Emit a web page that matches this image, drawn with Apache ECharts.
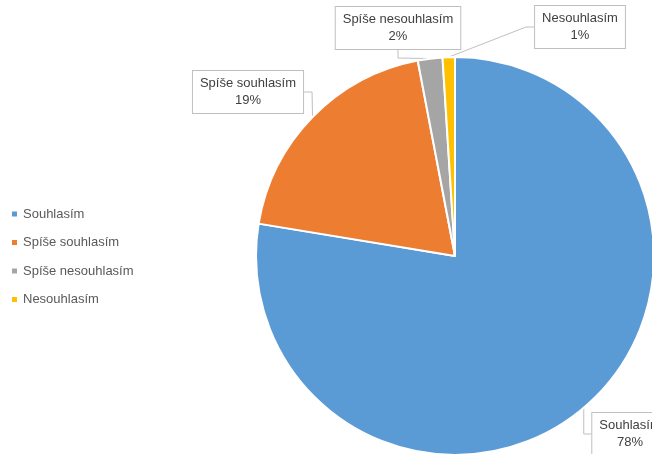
<!DOCTYPE html>
<html>
<head>
<meta charset="utf-8">
<script src="https://cdn.jsdelivr.net/npm/echarts@6/dist/echarts.min.js"></script>
<style>
html, body { margin: 0; padding: 0; background: #fff; }
#main { width: 652px; height: 454px; }
</style>
</head>
<body>
<div id="main"></div>
<script>
var categories = ['Souhlasím', 'Spíše souhlasím', 'Spíše nesouhlasím', 'Nesouhlasím'];
var values = [77.6, 19.4, 2.0, 1.0];
var colors = ['#5B9BD5', '#ED7D31', '#A5A5A5', '#FFC000'];
// where each callout box sits (centre of box)
var labelSpots = [[630, 434], [248, 92], [398, 28], [580, 27]];

var myChart = echarts.init(document.getElementById('main'));

var pieData = [];
for (var i = 0; i < categories.length; i++) {
    pieData.push({ name: categories[i], value: values[i], itemStyle: { color: colors[i] } });
}

option = {
    animation: false,
    textStyle: { fontFamily: 'Liberation Sans' },
    legend: {
        orient: 'vertical',
        left: 5,
        top: 201,
        itemWidth: 7,
        itemHeight: 7,
        itemGap: 12.5,
        icon: 'rect',
        textStyle: { color: '#595959', fontSize: 13, lineHeight: 16, fontFamily: 'Liberation Sans' },
        data: categories
    },
    series: [{
        type: 'pie',
        // wide layout box so the right-hand callout is not squeezed
        left: 0,
        top: 0,
        width: 1000,
        height: 454,
        center: [455, 256],
        radius: 199,
        startAngle: 90,
        clockwise: true,
        itemStyle: { borderColor: '#fff', borderWidth: 2 },
        label: {
            show: true,
            formatter: function (p) { return p.name + '\n' + Math.round(p.percent) + '%'; },
            color: '#404040',
            fontSize: 13,
            lineHeight: 17,
            align: 'center',
            overflow: 'none',
            backgroundColor: '#fff',
            borderColor: '#BFBFBF',
            borderWidth: 1,
            padding: [4, 7]
        },
        labelLine: {
            show: true,
            length: 8,
            length2: 8,
            lineStyle: { color: '#BFBFBF', width: 1 }
        },
        labelLayout: function (params) {
            var p = labelSpots[params.dataIndex];
            return { x: p[0], y: p[1], align: 'center', verticalAlign: 'middle', hideOverlap: false };
        },
        data: pieData
    }]
};

myChart.setOption(option);
</script>
</body>
</html>
